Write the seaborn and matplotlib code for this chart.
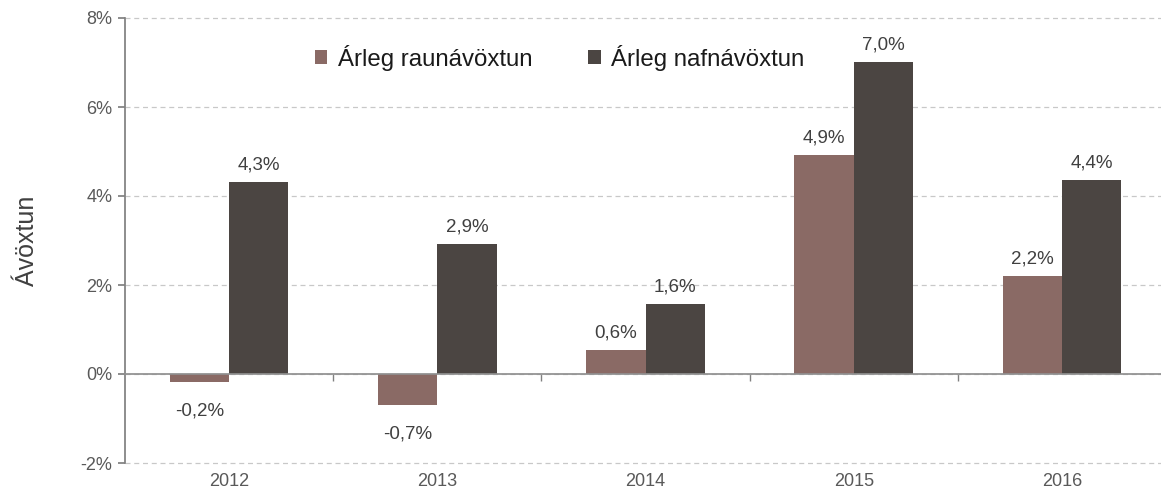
import matplotlib
matplotlib.use("Agg")
import matplotlib.pyplot as plt
import seaborn as sns
import pandas as pd
from matplotlib.ticker import FuncFormatter, FixedLocator

years = ["2012", "2013", "2014", "2015", "2016"]
raun = [-0.18, -0.70, 0.55, 4.92, 2.21]
nafn = [4.31, 2.92, 1.58, 7.01, 4.37]
series_names = ["Árleg raunávöxtun", "Árleg nafnávöxtun"]
colors = ["#8A6A65", "#4B4542"]

df = pd.DataFrame({
    "Ár": years * 2,
    "Ávöxtun": raun + nafn,
    "Röð": [series_names[0]] * len(years) + [series_names[1]] * len(years),
})

sns.set_theme(style="white")
plt.rcParams["font.family"] = ["Liberation Sans", "DejaVu Sans"]

fig = plt.figure(figsize=(11.61, 4.97), dpi=100)
ax = fig.add_axes([125 / 1161, 34 / 497, 1041 / 1161, 445 / 497])

sns.barplot(data=df, x="Ár", y="Ávöxtun", hue="Röð", palette=colors,
            width=0.57, saturation=1, ax=ax, edgecolor="none")

ax.set_ylim(-2, 8)
ax.set_xlim(-0.5, 4.5)
ax.set_yticks([-2, 0, 2, 4, 6, 8])
ax.yaxis.set_major_formatter(FuncFormatter(lambda v, p: f"{v:.0f}%"))
ax.grid(axis="y", color="#C8C8C8", linestyle=(0, (4, 3)), linewidth=0.9)
ax.set_axisbelow(True)
for gl in ax.yaxis.get_gridlines():
    gl.set_clip_on(False)

for s in ["top", "right"]:
    ax.spines[s].set_visible(False)
ax.spines["left"].set_color("#808080")
ax.spines["bottom"].set_position(("data", 0))
ax.spines["bottom"].set_color("#909090")

ax.tick_params(axis="y", which="major", length=5, color="#808080",
               labelcolor="#595959", labelsize=13, left=True, pad=4)
ax.tick_params(axis="x", which="major", length=0, labelbottom=False)
ax.xaxis.set_minor_locator(FixedLocator([0.5, 1.5, 2.5, 3.5]))
ax.tick_params(axis="x", which="minor", length=5, color="#808080",
               direction="out", bottom=True)

sec = ax.secondary_xaxis("bottom")
sec.set_xticks(range(len(years)))
sec.set_xticklabels(years)
sec.tick_params(length=0, labelcolor="#595959", labelsize=13, pad=7)
sec.spines["bottom"].set_visible(False)

ax.set_xlabel("")
ax.set_ylabel("Ávöxtun", fontsize=18, color="#404040", labelpad=30)

for cont in ax.containers:
    vals = cont.datavalues
    pos = [f"{v:.1f}%".replace(".", ",") if v >= 0 else "" for v in vals]
    neg = [f"{v:.1f}%".replace(".", ",") if v < 0 else "" for v in vals]
    ax.bar_label(cont, labels=pos, padding=6, fontsize=13.5, color="#404040")
    ax.bar_label(cont, labels=neg, padding=15, fontsize=13.5, color="#404040")

leg = ax.legend(loc="center left", bbox_to_anchor=(190 / 1041, 1 - 40 / 445),
                ncol=2, frameon=False, fontsize=17.3, handlelength=0.52,
                handleheight=0.52, columnspacing=2.3, handletextpad=0.45,
                borderpad=0, borderaxespad=0)
for t in leg.get_texts():
    t.set_color("#1A1A1A")

fig.savefig("out.png", dpi=100)
